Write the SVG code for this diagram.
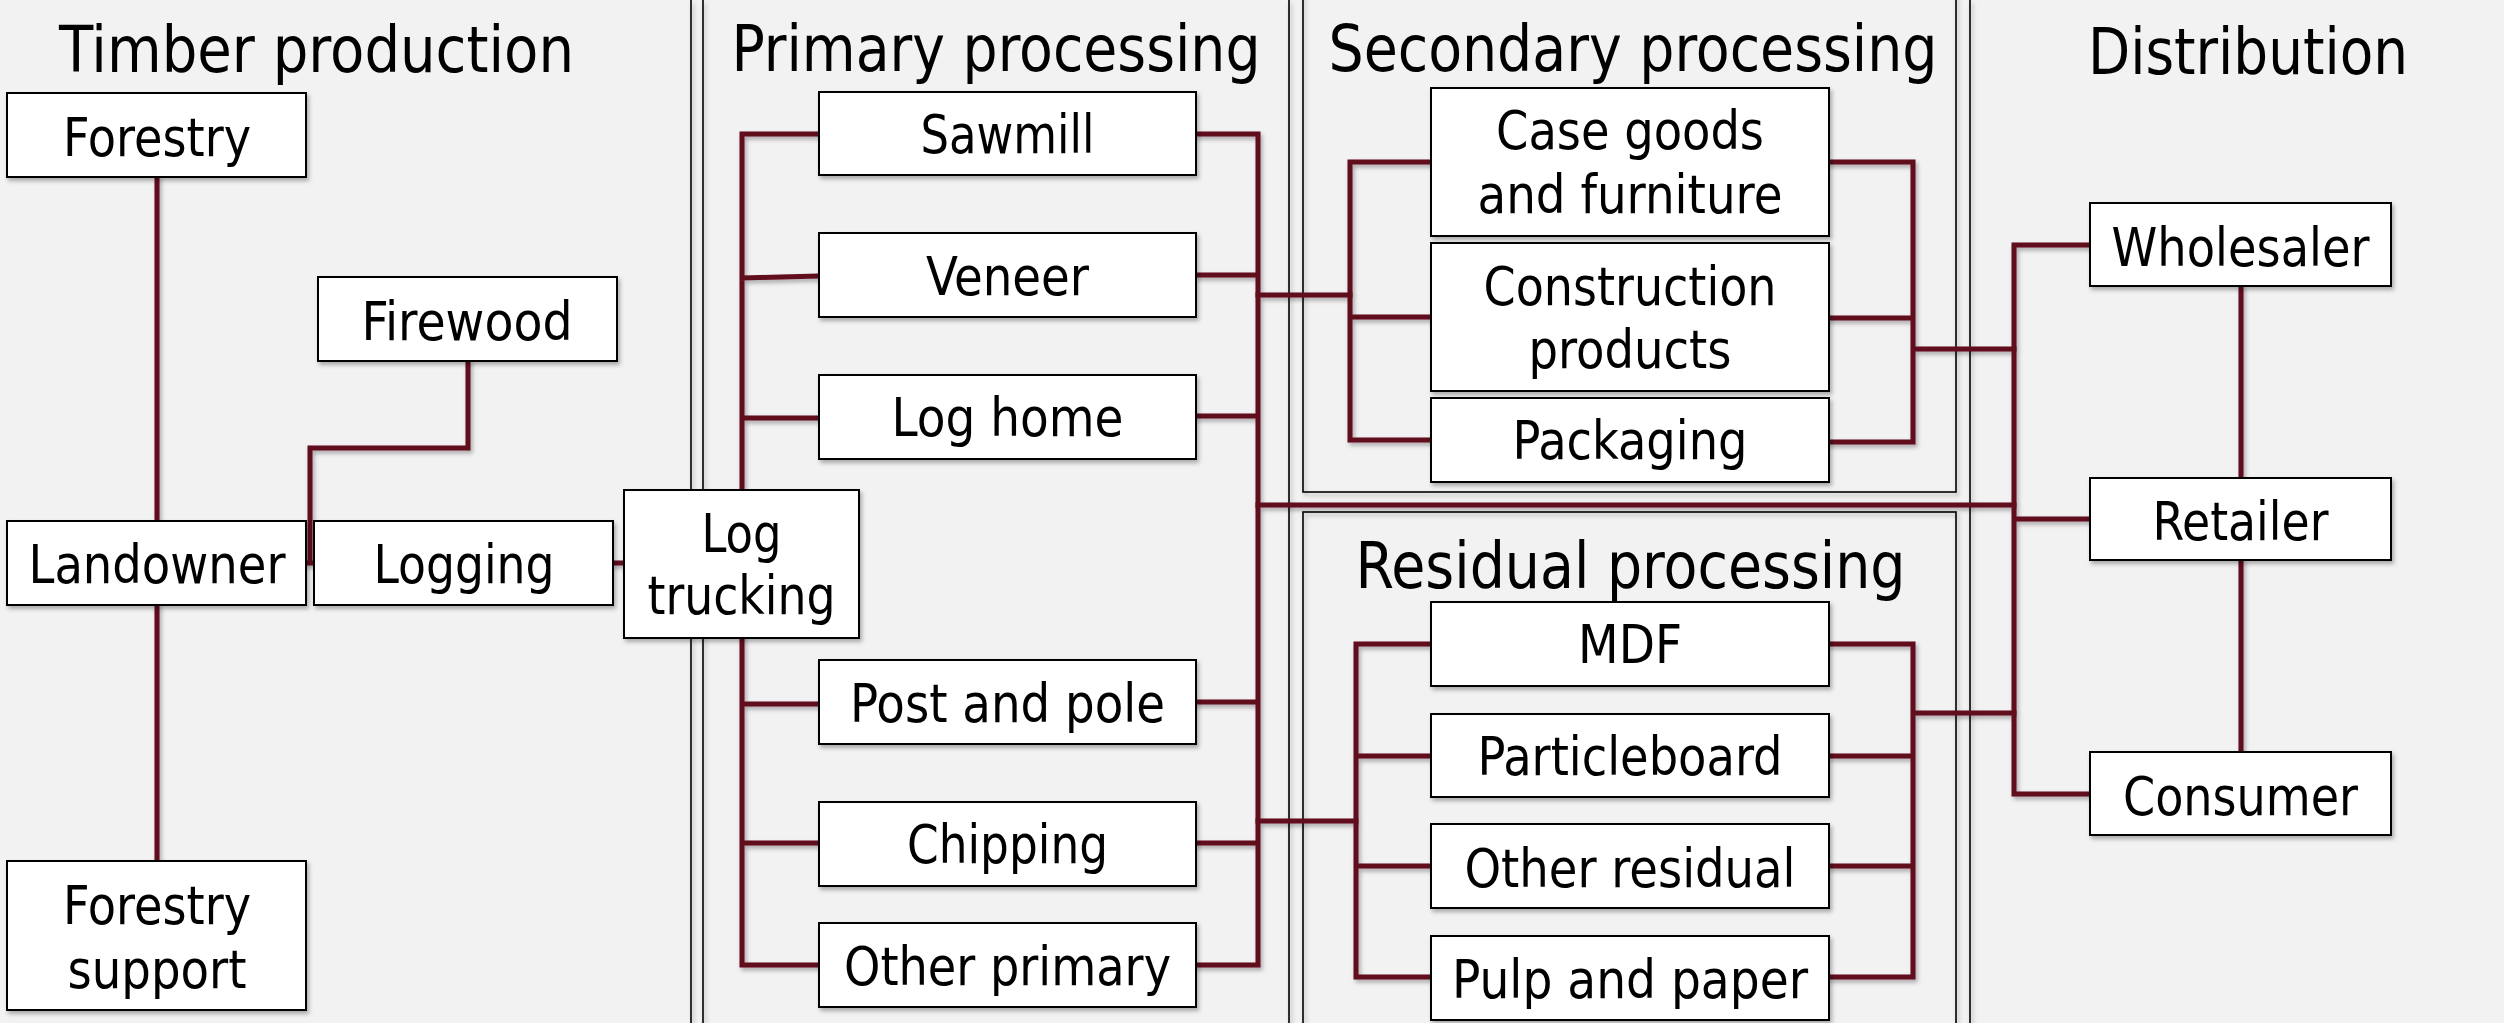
<svg xmlns="http://www.w3.org/2000/svg" width="2504" height="1023" viewBox="0 0 2504 1023">
<defs>
<filter id="sh" x="-5%" y="-5%" width="115%" height="115%">
<feDropShadow dx="2" dy="3" stdDeviation="2" flood-color="#000" flood-opacity="0.3"/>
</filter>
<style>
.bg{fill:#f2f2f2}
.div{stroke:#000;stroke-width:1.6;fill:none}
.node rect{fill:#fff;stroke:#000;stroke-width:2}
text{font-family:'DejaVu Sans Condensed','DejaVu Sans',sans-serif;font-stretch:condensed;fill:#000;text-anchor:middle}
.lbl{font-size:53px}
.ttl{font-size:64px}
.con{stroke:#600a1e;stroke-width:5;fill:none;stroke-linejoin:miter;stroke-linecap:square}
</style>
</defs>
<rect class="bg" x="0" y="0" width="2504" height="1023"/>

<g id="dividers" filter="url(#sh)">
<line class="div" x1="691" y1="0" x2="691" y2="1023"/>
<line class="div" x1="703" y1="0" x2="703" y2="1023"/>
<line class="div" x1="1289" y1="0" x2="1289" y2="1023"/>
<line class="div" x1="1970" y1="0" x2="1970" y2="1023"/>
<rect class="div" x="1303" y="-10" width="653" height="502"/>
<rect class="div" x="1303" y="512" width="653" height="530"/>
</g>

<g id="titles">
<text class="ttl" x="316.5" y="72" textLength="515" lengthAdjust="spacingAndGlyphs">Timber production</text>
<text class="ttl" x="996" y="71" textLength="529" lengthAdjust="spacingAndGlyphs">Primary processing</text>
<text class="ttl" x="1633" y="71" textLength="609" lengthAdjust="spacingAndGlyphs">Secondary processing</text>
<text class="ttl" x="2248" y="74" textLength="320" lengthAdjust="spacingAndGlyphs">Distribution</text>
<text class="ttl" x="1630.5" y="588" textLength="550" lengthAdjust="spacingAndGlyphs">Residual processing</text>
</g>

<g id="connectors" filter="url(#sh)">
<path class="con" d="M157,177 V521 M157,605 V861"/>
<path class="con" d="M468,361 V448 H310 V563 M306,563 H314"/>
<path class="con" d="M613,563 H624"/>
<path class="con" d="M742,134 V965 M742,134 H819 M742,278 L819,276 M742,418 H819 M742,704 H819 M742,843 H819 M742,965 H819"/>
<path class="con" d="M1196,134 H1258 V965 M1196,275 H1258 M1196,416 H1258 M1196,702 H1258 M1196,843 H1258 M1196,965 H1258"/>
<path class="con" d="M1258,295 H1350 M1258,505 H2014 M1258,821 H1356"/>
<path class="con" d="M1431,162 H1350 V440 H1431 M1350,317 H1431"/>
<path class="con" d="M1829,162 H1913 V442 H1829 M1829,318 H1913 M1913,349 H2014"/>
<path class="con" d="M1431,644 H1356 V977 H1431 M1356,756 H1431 M1356,866 H1431"/>
<path class="con" d="M1829,644 H1913 V977 H1829 M1829,756 H1913 M1829,866 H1913 M1913,713 H2014"/>
<path class="con" d="M2090,245 H2014 V794 H2090 M2014,519 H2090"/>
<path class="con" d="M2241,286 V478 M2241,560 V752"/>
</g>

<g id="n-forestry" class="node" filter="url(#sh)"><rect x="7" y="93" width="299" height="84"/><text class="lbl" x="157" y="156" textLength="188" lengthAdjust="spacingAndGlyphs">Forestry</text></g>
<g id="n-firewood" class="node" filter="url(#sh)"><rect x="318" y="277" width="299" height="84"/><text class="lbl" x="467" y="340" textLength="211" lengthAdjust="spacingAndGlyphs">Firewood</text></g>
<g id="n-landowner" class="node" filter="url(#sh)"><rect x="7" y="521" width="299" height="84"/><text class="lbl" x="157" y="583" textLength="257" lengthAdjust="spacingAndGlyphs">Landowner</text></g>
<g id="n-logging" class="node" filter="url(#sh)"><rect x="314" y="521" width="299" height="84"/><text class="lbl" x="464" y="583" textLength="181" lengthAdjust="spacingAndGlyphs">Logging</text></g>
<g id="n-logtrucking" class="node" filter="url(#sh)"><rect x="624" y="490" width="235" height="148"/><text class="lbl" x="741.5" y="552" textLength="80" lengthAdjust="spacingAndGlyphs">Log</text><text class="lbl" x="741.5" y="614" textLength="188" lengthAdjust="spacingAndGlyphs">trucking</text></g>
<g id="n-forestrysupport" class="node" filter="url(#sh)"><rect x="7" y="861" width="299" height="149"/><text class="lbl" x="157" y="924" textLength="188" lengthAdjust="spacingAndGlyphs">Forestry</text><text class="lbl" x="157" y="988" textLength="179" lengthAdjust="spacingAndGlyphs">support</text></g>

<g id="n-sawmill" class="node" filter="url(#sh)"><rect x="819" y="92" width="377" height="83"/><text class="lbl" x="1007.5" y="153" textLength="174" lengthAdjust="spacingAndGlyphs">Sawmill</text></g>
<g id="n-veneer" class="node" filter="url(#sh)"><rect x="819" y="233" width="377" height="84"/><text class="lbl" x="1007.5" y="294.5" textLength="163" lengthAdjust="spacingAndGlyphs">Veneer</text></g>
<g id="n-loghome" class="node" filter="url(#sh)"><rect x="819" y="375" width="377" height="84"/><text class="lbl" x="1007.5" y="435.5" textLength="232" lengthAdjust="spacingAndGlyphs">Log home</text></g>
<g id="n-postpole" class="node" filter="url(#sh)"><rect x="819" y="660" width="377" height="84"/><text class="lbl" x="1007.5" y="721.5" textLength="315" lengthAdjust="spacingAndGlyphs">Post and pole</text></g>
<g id="n-chipping" class="node" filter="url(#sh)"><rect x="819" y="802" width="377" height="84"/><text class="lbl" x="1007.5" y="863" textLength="201" lengthAdjust="spacingAndGlyphs">Chipping</text></g>
<g id="n-otherprimary" class="node" filter="url(#sh)"><rect x="819" y="923" width="377" height="84"/><text class="lbl" x="1007.5" y="985" textLength="327" lengthAdjust="spacingAndGlyphs">Other primary</text></g>

<g id="n-casegoods" class="node" filter="url(#sh)"><rect x="1431" y="88" width="398" height="148"/><text class="lbl" x="1630" y="149" textLength="268" lengthAdjust="spacingAndGlyphs">Case goods</text><text class="lbl" x="1630" y="213" textLength="305" lengthAdjust="spacingAndGlyphs">and furniture</text></g>
<g id="n-construction" class="node" filter="url(#sh)"><rect x="1431" y="243" width="398" height="148"/><text class="lbl" x="1630" y="305" textLength="293" lengthAdjust="spacingAndGlyphs">Construction</text><text class="lbl" x="1630" y="368" textLength="203" lengthAdjust="spacingAndGlyphs">products</text></g>
<g id="n-packaging" class="node" filter="url(#sh)"><rect x="1431" y="398" width="398" height="84"/><text class="lbl" x="1630" y="459" textLength="235" lengthAdjust="spacingAndGlyphs">Packaging</text></g>

<g id="n-mdf" class="node" filter="url(#sh)"><rect x="1431" y="602" width="398" height="84"/><text class="lbl" x="1630" y="663" textLength="104" lengthAdjust="spacingAndGlyphs">MDF</text></g>
<g id="n-particleboard" class="node" filter="url(#sh)"><rect x="1431" y="714" width="398" height="83"/><text class="lbl" x="1630" y="775" textLength="305" lengthAdjust="spacingAndGlyphs">Particleboard</text></g>
<g id="n-otherresidual" class="node" filter="url(#sh)"><rect x="1431" y="824" width="398" height="84"/><text class="lbl" x="1630" y="886.5" textLength="331" lengthAdjust="spacingAndGlyphs">Other residual</text></g>
<g id="n-pulppaper" class="node" filter="url(#sh)"><rect x="1431" y="936" width="398" height="84"/><text class="lbl" x="1630" y="998" textLength="356" lengthAdjust="spacingAndGlyphs">Pulp and paper</text></g>

<g id="n-wholesaler" class="node" filter="url(#sh)"><rect x="2090" y="203" width="301" height="83"/><text class="lbl" x="2240.5" y="266" textLength="258" lengthAdjust="spacingAndGlyphs">Wholesaler</text></g>
<g id="n-retailer" class="node" filter="url(#sh)"><rect x="2090" y="478" width="301" height="82"/><text class="lbl" x="2240.5" y="540" textLength="176" lengthAdjust="spacingAndGlyphs">Retailer</text></g>
<g id="n-consumer" class="node" filter="url(#sh)"><rect x="2090" y="752" width="301" height="83"/><text class="lbl" x="2240.5" y="815" textLength="235" lengthAdjust="spacingAndGlyphs">Consumer</text></g>
</svg>
